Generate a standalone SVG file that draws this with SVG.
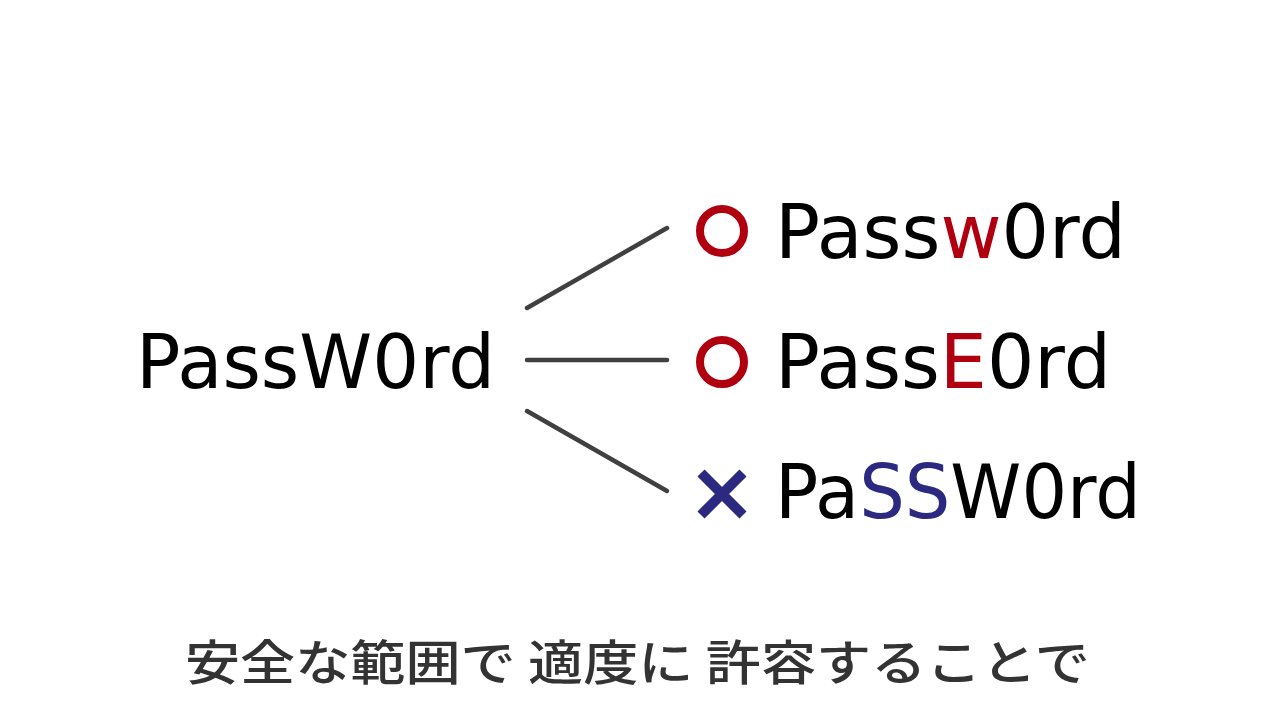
<svg xmlns="http://www.w3.org/2000/svg" width="1280" height="720" viewBox="0 0 1280 720">
<style>
.t{font-family:"DejaVu Sans","Noto Sans",sans-serif;font-size:74px;fill:#000}
.r{fill:#b00010}
.b{fill:#2b2a80}
.ln{stroke:#404040;stroke-width:4.5;stroke-linecap:round;fill:none}
.ok{fill:none;stroke:#b00010;stroke-width:8}
.ng{stroke:#2b2a80;stroke-width:10;stroke-linecap:butt}
.jp{font-family:"Noto Sans CJK JP",sans-serif;font-size:48px;font-weight:500;fill:#333}
</style>
<rect width="1280" height="720" fill="#fff"/>
<g id="src"><text class="t" x="136" y="388" textLength="359" lengthAdjust="spacingAndGlyphs">PassW0rd</text></g>
<g id="connectors">
<line class="ln" x1="527" y1="308" x2="667" y2="228"/>
<line class="ln" x1="527" y1="360" x2="667" y2="360"/>
<line class="ln" x1="527" y1="411" x2="667" y2="491"/>
</g>
<g id="opt1"><circle class="ok" cx="722" cy="231" r="22"/><text class="t" x="775" y="258" textLength="351" lengthAdjust="spacingAndGlyphs">Pass<tspan class="r">w</tspan>0rd</text></g>
<g id="opt2"><circle class="ok" cx="722" cy="362" r="22"/><text class="t" x="775" y="388" textLength="336" lengthAdjust="spacingAndGlyphs">Pass<tspan class="r">E</tspan>0rd</text></g>
<g id="opt3"><path class="ng" d="M701 473L743 515M743 473L701 515"/><text class="t" x="775" y="518" textLength="366" lengthAdjust="spacingAndGlyphs">Pa<tspan class="b">SS</tspan>W0rd</text></g>
<g id="caption"><text class="jp" x="185" y="680" textLength="905" lengthAdjust="spacingAndGlyphs">安全な範囲で 適度に 許容することで</text></g>
</svg>
